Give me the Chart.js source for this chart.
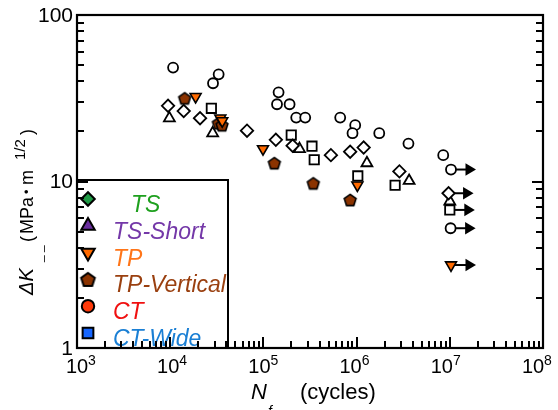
<!DOCTYPE html>
<html>
<head>
<meta charset="utf-8">
<script src="https://cdn.jsdelivr.net/npm/chart.js@4.4.1/dist/chart.umd.min.js"></script>
<style>
  html, body { margin: 0; padding: 0; background: #fff; }
  canvas { display: block; }
</style>
</head>
<body>
<canvas id="chart" width="558" height="410"></canvas>
<script>
// cycles to failure (N) vs stress intensity range (K), per specimen type
const tsN = [9480, 13960, 20900, 66700, 136000, 206000, 530000, 853000, 1190000, 2880000];
const tsK = [28.5, 26.5, 24.0, 20.2, 17.8, 16.4, 14.4, 15.1, 16.0, 11.5];
const tsRunN = [9.7e6];
const tsRunK = [8.5];

const tssN = [9800, 28560, 244000, 1290000, 3660000, 1.0e7];
const tssK = [24.0, 19.5, 15.7, 12.9, 10.1, 7.6];

const tpN = [18750, 34500, 36200, 99000, 1020000];
const tpK = [32.3, 24.0, 23.1, 15.7, 9.5];
const tpRunN = [1.03e7];
const tpRunK = [3.15];

const tpvN = [14300, 32900, 36000, 131000, 343000, 853000];
const tpvK = [31.6, 22.4, 21.8, 12.9, 9.76, 7.75];

const ctN = [10740, 33100, 28800, 145500, 140000, 191000, 225000, 281000, 667000, 966000, 904000, 1750000, 3600000, 8500000];
const ctK = [48.3, 44.0, 38.9, 34.3, 29.1, 29.1, 24.2, 24.2, 24.2, 21.8, 19.5, 19.5, 16.9, 14.4];
const ctRunN = [1.03e7, 1.02e7];
const ctRunK = [11.8, 5.24];

const ctwN = [27650, 199000, 332000, 351000, 1030000, 2590000];
const ctwK = [27.5, 19.0, 16.3, 13.5, 10.8, 9.5];
const ctwRunN = [1.0e7];
const ctwRunK = [6.75];

const xExponents = [3, 4, 5, 6, 7, 8];
const yTickValues = [1, 10, 100];
const legendNames = ["TS", "TS-Short", "TP", "TP-Vertical", "CT", "CT-Wide"];

const FONT = "'Liberation Sans', Arial, sans-serif";

function pts(xs, ys) {
  return xs.map((x, i) => ({ x: x, y: ys[i] }));
}

// no pentagon in chart.js, so make one as an image point style
function pentagon(r, fill, lw) {
  const s = Math.ceil(2 * r + 2 * lw + 2);
  const c = document.createElement("canvas");
  c.width = s;
  c.height = s;
  const g = c.getContext("2d");
  g.beginPath();
  for (let i = 0; i < 5; i++) {
    const a = -Math.PI / 2 + i * 2 * Math.PI / 5;
    const px = s / 2 + r * Math.cos(a);
    const py = s / 2 + r * Math.sin(a) + r * 0.095;
    if (i === 0) g.moveTo(px, py);
    else g.lineTo(px, py);
  }
  g.closePath();
  g.fillStyle = fill;
  g.fill();
  g.lineWidth = lw;
  g.strokeStyle = "#000";
  g.stroke();
  return c;
}

const pentaData = pentagon(6.2, "#8b3300", 1.6);
const pentaLegend = pentagon(7.2, "#8b3300", 2);

const openStyle = { backgroundColor: "#fff", borderColor: "#000", borderWidth: 1.8 };

const styles = {
  ts: Object.assign({ pointStyle: "rectRot", pointRadius: 6.2 }, openStyle),
  tss: Object.assign({ pointStyle: "triangle", pointRadius: 6.3 }, openStyle),
  tp: { pointStyle: "triangle", rotation: 180, pointRadius: 6.3, backgroundColor: "#ff6a00", borderColor: "#000", borderWidth: 1.6 },
  tpv: { pointStyle: pentaData, pointRadius: 6 },
  ct: Object.assign({ pointStyle: "circle", pointRadius: 5 }, openStyle),
  ctw: Object.assign({ pointStyle: "rect", pointRadius: 6.6 }, openStyle),
};

function ds(label, data, st, runout) {
  return Object.assign({ label: label, data: data, runout: !!runout, showLine: false }, st);
}

// legend entries: marker style + text colour
const legendItems = [
  { style: "rectRot", r: 6.8, fill: "#1f9a45", color: "#1ea01e", tx: 131 },
  { style: "triangle", r: 7.8, fill: "#6a2e9e", color: "#7438a8", tx: 113 },
  { style: "triangle", r: 7.8, rot: 180, fill: "#ff6a00", color: "#ff7518", tx: 113 },
  { style: pentaLegend, r: 7, fill: "#8b3300", color: "#9a4010", tx: 113 },
  { style: "circle", r: 6.2, fill: "#ff3a0a", color: "#f01010", tx: 113 },
  { style: "rect", r: 7.6, fill: "#1666ff", color: "#1a7fd4", tx: 113 },
];

const runoutArrows = {
  id: "runoutArrows",
  beforeDatasetsDraw(chart) {
    const ctx = chart.ctx;
    ctx.save();
    ctx.strokeStyle = "#000";
    ctx.fillStyle = "#000";
    ctx.lineWidth = 2;
    chart.data.datasets.forEach((d, i) => {
      if (!d.runout) return;
      chart.getDatasetMeta(i).data.forEach((el) => {
        ctx.beginPath();
        ctx.moveTo(el.x, el.y);
        ctx.lineTo(el.x + 16, el.y);
        ctx.stroke();
        ctx.beginPath();
        ctx.moveTo(el.x + 14.5, el.y - 6.3);
        ctx.lineTo(el.x + 25, el.y);
        ctx.lineTo(el.x + 14.5, el.y + 6.3);
        ctx.closePath();
        ctx.fill();
      });
    });
    ctx.restore();
  },
};

const frameAndText = {
  id: "frameAndText",
  afterDatasetsDraw(chart) {
    const ctx = chart.ctx;
    const a = chart.chartArea;
    const xs = chart.scales.x;
    const ys = chart.scales.y;
    ctx.save();

    // legend box, bottom-left inside the plot
    const lb = { left: a.left, top: 180, right: 228, bottom: a.bottom };
    ctx.fillStyle = "#fff";
    ctx.fillRect(lb.left, lb.top, lb.right - lb.left, lb.bottom - lb.top);
    ctx.strokeStyle = "#000";
    ctx.lineWidth = 2;
    ctx.strokeRect(lb.left, lb.top, lb.right - lb.left, lb.bottom - lb.top);
    legendItems.forEach((it, i) => {
      const cy = 199 + i * 26.8;
      ctx.fillStyle = it.fill;
      ctx.strokeStyle = "#000";
      ctx.lineWidth = 2;
      Chart.helpers.drawPoint(ctx, { pointStyle: it.style, radius: it.r, rotation: it.rot || 0, borderWidth: 2 }, 88, cy);
      ctx.fillStyle = it.color;
      ctx.font = "italic 23px " + FONT;
      ctx.textAlign = "left";
      ctx.textBaseline = "alphabetic";
      ctx.fillText(legendNames[i], it.tx, cy + 13);
    });

    // frame
    ctx.strokeStyle = "#000";
    ctx.lineWidth = 2.2;
    ctx.strokeRect(a.left, a.top, a.right - a.left, a.bottom - a.top);

    // log ticks, pointing inward
    ctx.fillStyle = "#000";
    for (let e = 3; e < 8; e++) {
      for (let m = 1; m <= 9; m++) {
        const px = Math.round(xs.getPixelForValue(m * Math.pow(10, e)));
        const len = m === 1 ? 11 : 7;
        ctx.fillRect(px - 1, a.bottom - len, 2, len);
      }
    }
    for (let e = 0; e < 2; e++) {
      for (let m = 1; m <= 9; m++) {
        const py = Math.round(ys.getPixelForValue(m * Math.pow(10, e)));
        const len = m === 1 ? 11 : 7;
        ctx.fillRect(a.left, py - 1, len, 2);
        ctx.fillRect(a.right - len, py - 1, len, 2);
      }
    }

    // tick labels
    ctx.fillStyle = "#000";
    ctx.textBaseline = "alphabetic";
    ctx.textAlign = "left";
    xExponents.forEach((e) => {
      const px = xs.getPixelForValue(Math.pow(10, e));
      ctx.font = "20px " + FONT;
      const w1 = ctx.measureText("10").width;
      const x0 = px - w1 / 2 - 2 * (e - 3);
      ctx.fillText("10", x0, 373);
      ctx.font = "14px " + FONT;
      ctx.fillText(String(e), x0 + w1, 365);
    });
    ctx.font = "21px " + FONT;
    ctx.textAlign = "right";
    ctx.textBaseline = "middle";
    yTickValues.forEach((v) => {
      ctx.fillText(String(v), 73, ys.getPixelForValue(v) + 1);
    });

    // x title: N_f (cycles)
    ctx.textAlign = "left";
    ctx.textBaseline = "alphabetic";
    ctx.font = "italic 22px " + FONT;
    ctx.fillText("N", 251, 399);
    ctx.font = "italic 14px " + FONT;
    ctx.fillText("f", 268, 416);
    ctx.font = "22px " + FONT;
    ctx.fillText("(cycles)", 300, 399);

    // y title, rotated: ΔK_ (MPa·m^1/2)
    ctx.translate(33, 295);
    ctx.rotate(-Math.PI / 2);
    ctx.font = "italic 20px " + FONT;
    ctx.fillText("\u0394K", 0, 0);
    ctx.font = "12px " + FONT;
    ctx.fillText("_ _", 33, 9);
    ctx.font = "18px " + FONT;
    ctx.fillText("(", 53, 0);
    ctx.fillText("MPa", 61, 0);
    ctx.font = "13px " + FONT;
    ctx.fillText("\u2022", 101, -2);
    ctx.font = "18px " + FONT;
    ctx.fillText("m", 110, 0);
    ctx.font = "15px " + FONT;
    ctx.fillText("1/2", 135, -8);
    ctx.font = "18px " + FONT;
    ctx.fillText(")", 160, 0);

    ctx.restore();
  },
};

const chart = new Chart(document.getElementById("chart").getContext("2d"), {
  type: "scatter",
  data: {
    datasets: [
      ds("TP", pts(tpN, tpK), styles.tp),
      ds("TP runout", pts(tpRunN, tpRunK), styles.tp, true),
      ds("TP-Vertical", pts(tpvN, tpvK), styles.tpv),
      ds("TS", pts(tsN, tsK), styles.ts),
      ds("TS runout", pts(tsRunN, tsRunK), styles.ts, true),
      ds("TS-Short", pts(tssN, tssK), styles.tss),
      ds("CT-Wide", pts(ctwN, ctwK), styles.ctw),
      ds("CT-Wide runout", pts(ctwRunN, ctwRunK), styles.ctw, true),
      ds("CT", pts(ctN, ctK), styles.ct),
      ds("CT runout", pts(ctRunN, ctRunK), styles.ct, true),
    ],
  },
  options: {
    responsive: false,
    devicePixelRatio: 1,
    animation: false,
    events: [],
    layout: { padding: { left: 77, right: 15, top: 15, bottom: 62 } },
    scales: {
      x: { type: "logarithmic", min: 1e3, max: 1e8, display: false },
      y: { type: "logarithmic", min: 1, max: 100, display: false },
    },
    plugins: {
      legend: { display: false },
      tooltip: { enabled: false },
    },
  },
  plugins: [runoutArrows, frameAndText],
});
</script>
</body>
</html>
